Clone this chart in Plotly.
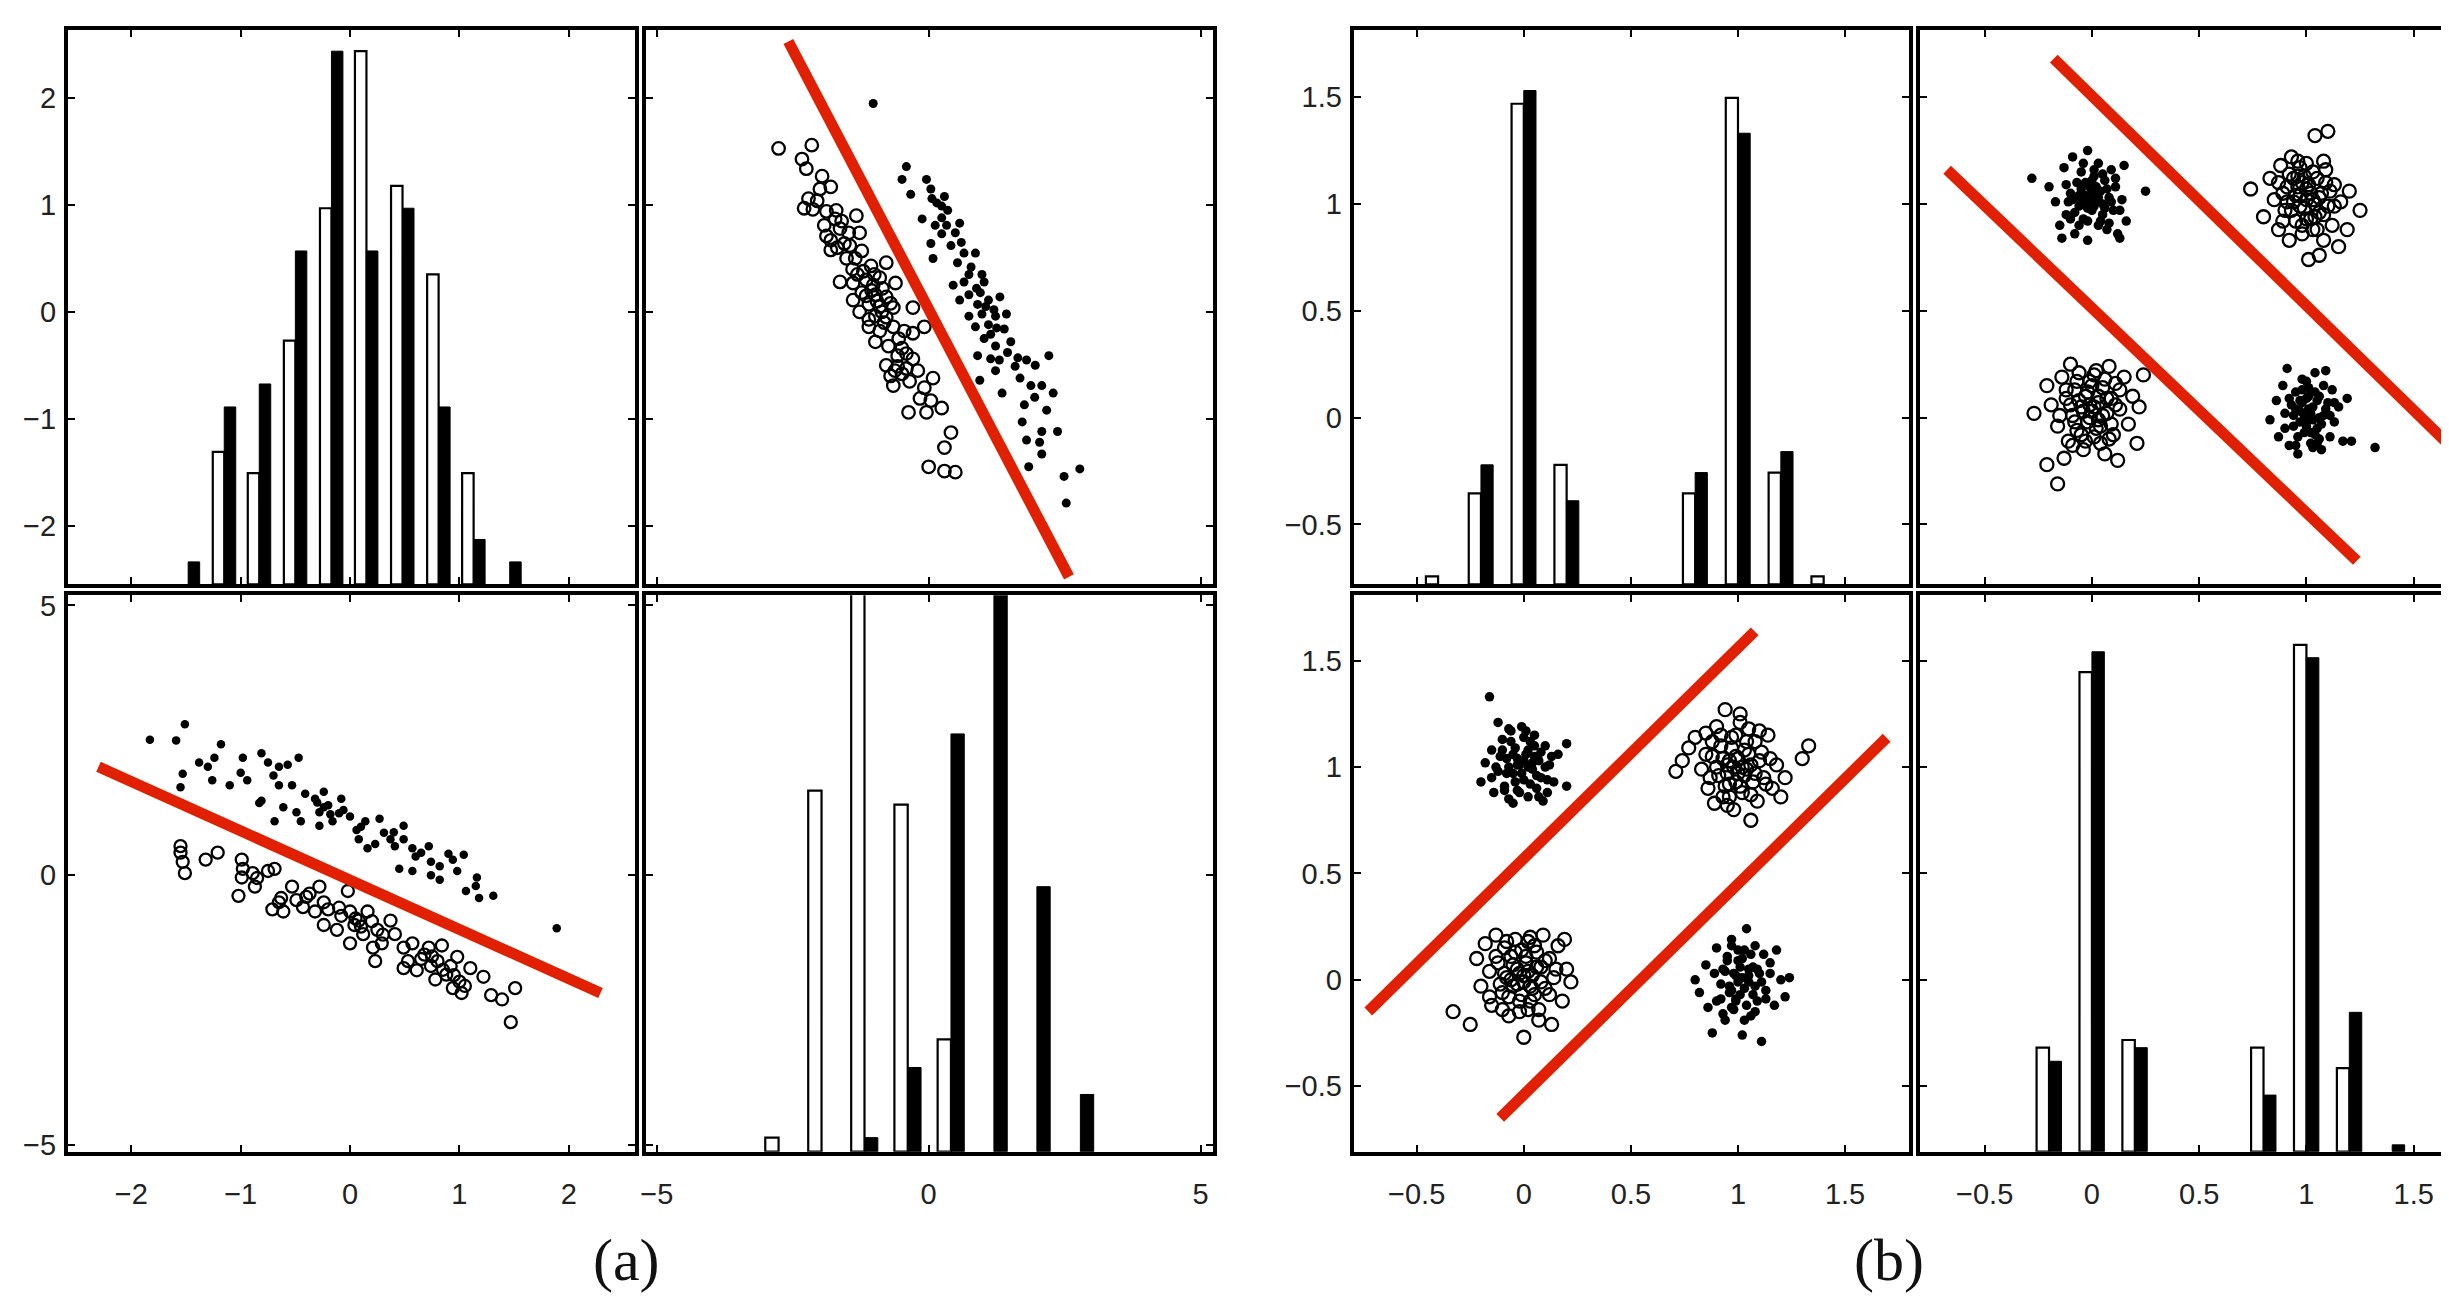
import plotly.graph_objects as go

W, H = 2449, 1297
RED = "#E02000"

# ---------------- (a) histograms: bin centres and bar tops (axis units) ----------------
a11_bins = [-1.48, -1.15, -0.83, -0.50, -0.17, 0.15, 0.48, 0.81, 1.13, 1.46]
a11_open_top = [None, -1.31, -1.51, -0.27, 0.97, 2.44, 1.18, 0.35, -1.51, None]
a11_fill_top = [-2.34, -0.89, -0.675, 0.57, 2.44, 0.57, 0.97, -0.89, -2.13, -2.34]

a22_bins = [-2.76, -1.97, -1.18, -0.385, 0.41, 1.20, 1.99, 2.79]
a22_open_top = [-4.86, 1.57, 6.0, 1.31, -3.04, None, None, None]
a22_fill_top = [None, None, -4.86, -3.56, 2.62, 6.0, -0.21, -4.06]

# ---------------- (b) histograms ----------------
b11_bins = [-0.4, -0.2, 0.0, 0.2, 0.8, 1.0, 1.2, 1.4]
b11_open_top = [-0.743, -0.354, 1.469, -0.221, -0.354, 1.496, -0.257, -0.743]
b11_fill_top = [None, -0.221, 1.531, -0.389, -0.257, 1.331, -0.159, None]

b22_bins = [-0.2, 0.0, 0.2, 0.8, 1.0, 1.2, 1.4]
b22_open_top = [-0.319, 1.446, -0.283, -0.319, 1.574, -0.415, None]
b22_fill_top = [-0.383, 1.542, -0.319, -0.542, 1.514, -0.153, -0.776]

# ---------------- (a) scatter: panel top-right (x2 vs x1) ----------------
a12_open = [(-2.76,1.53),(-2.15,1.56),(-2.33,1.43),(-2.25,1.34),(-1.96,1.27),(-1.80,1.17),(-2.21,1.06),(-2.05,1.04),
    (-2.29,0.97),(-2.13,0.96),(-1.88,0.94),(-1.33,0.90),(-1.72,0.87),(-1.92,0.81),(-1.63,0.78),(-1.47,0.74),
    (-1.27,0.74),(-1.80,0.67),(-1.55,0.64),(-1.80,0.58),(-1.23,0.57),(-1.35,0.50),(-0.78,0.46),(-1.06,0.43),
    (-1.31,0.35),(-1.63,0.28),(-1.39,0.27),(-1.15,0.30),(-0.90,0.32),(-0.61,0.27),(-1.23,0.18),(-0.98,0.16),
    (-0.78,0.14),(-1.39,0.11),(-1.10,0.07),(-0.90,0.05),(-0.65,0.04),(-0.29,0.04),(-1.27,0.00),(-0.98,-0.04),
    (-0.78,-0.05),(-1.10,-0.14),(-0.90,-0.18),(-0.65,-0.14),(-0.29,-0.20),(-0.98,-0.28),(-0.74,-0.32),(-0.49,-0.34),
    (-0.57,-0.41),(-0.41,-0.39),(-0.29,-0.44),(-0.78,-0.50),(-0.57,-0.51),(-0.41,-0.53),(-0.70,-0.60),(-0.49,-0.58),
    (-0.65,-0.69),(0.08,-0.62),(-0.08,-0.71),(-0.16,-0.81),(0.04,-0.83),(0.24,-0.90),(-0.37,-0.94),(-0.04,-0.94),
    (0.41,-1.13),(0.29,-1.27),(0.00,-1.45),(0.29,-1.49),(0.49,-1.50),(-1.88,0.71),(-1.68,0.60),(-1.51,0.50),
    (-1.02,0.25),(-0.86,0.00),(-1.10,-0.07),(-0.45,-0.18),(-0.08,-0.14),
    (-1.05,0.20),(-0.95,0.10),(-1.15,0.15),(-0.85,0.22),(-1.20,0.38),(-1.00,0.35),(-0.70,0.08),(-0.82,-0.10),
    (-1.45,0.62),(-1.60,0.85),(-1.70,0.95),(-2.00,1.15),(-1.40,0.40),(-0.55,-0.25),(-0.62,-0.55),(-0.35,-0.65),
    (-0.20,-0.55)]
a12_fill = [(-1.02,1.95),(-0.41,1.36),(-0.49,1.24),(-0.04,1.24),(0.04,1.15),(-0.33,1.10),(0.06,1.06),(0.29,1.08),
    (0.24,0.99),(-0.12,0.87),(0.12,0.81),(0.33,0.81),(0.57,0.83),(0.24,0.73),(0.49,0.74),(0.04,0.64),(0.41,0.62),
    (0.65,0.55),(0.86,0.55),(0.08,0.50),(0.53,0.46),(0.78,0.42),(0.98,0.35),(0.45,0.25),(0.65,0.28),(0.74,0.16),
    (1.02,0.28),(0.57,0.11),(0.90,0.07),(1.10,0.11),(1.31,0.14),(0.74,-0.04),(0.98,-0.02),(1.23,-0.04),(1.43,-0.02),
    (0.86,-0.14),(1.10,-0.12),(1.39,-0.16),(1.02,-0.25),(1.51,-0.28),(1.23,-0.32),(0.90,-0.41),(1.14,-0.44),
    (1.64,-0.43),(1.59,-0.51),(1.23,-0.55),(1.96,-0.50),(2.21,-0.41),(0.94,-0.64),(1.68,-0.62),(1.88,-0.69),
    (2.08,-0.69),(1.35,-0.76),(2.29,-0.76),(1.76,-0.87),(2.17,-0.92),(1.72,-1.03),(2.08,-1.12),(2.37,-1.12),
    (1.80,-1.20),(2.04,-1.22),(2.08,-1.33),(1.84,-1.45),(2.49,-1.54),(2.78,-1.47),(2.53,-1.79),(0.24,0.88),
    (0.74,0.35),(1.14,-0.21),
    (1.05,0.05),(1.20,0.02),(0.95,0.18),(1.25,-0.15),(0.60,0.65),(0.35,0.95),(0.15,1.02),(1.45,-0.38),
    (1.80,-0.45),(1.95,-0.80),(0.88,0.22),(1.30,-0.45)]
a12_line = [(-2.58, 2.53), (2.58, -2.48)]

# ---------------- (a) scatter: panel bottom-left (x1 vs x2) ----------------
a21_fill = [(-1.83,2.51),(-1.59,2.50),(-1.51,2.80),(-1.53,1.88),(-1.55,1.63),(-1.38,2.09),(-1.30,2.01),(-1.24,2.18),
    (-1.18,2.43),(-1.26,1.76),(-1.10,1.67),(-0.98,2.18),(-0.94,1.76),(-0.81,2.26),(-0.75,2.09),(-0.65,2.01),
    (-0.57,2.05),(-0.47,2.18),(-0.65,1.67),(-0.53,1.67),(-0.81,1.38),(-0.61,1.26),(-0.69,1.00),(-0.49,1.17),
    (-0.41,1.51),(-0.32,1.42),(-0.28,1.17),(-0.24,1.26),(-0.18,1.13),(-0.16,1.00),(-0.08,1.42),(-0.06,1.21),
    (0.00,1.09),(0.06,0.84),(0.14,1.00),(0.08,0.67),(0.16,0.50),(0.27,1.05),(0.31,0.79),(0.37,0.67),(0.41,0.54),
    (0.49,0.92),(0.45,0.12),(0.49,0.67),(0.57,0.50),(0.57,0.08),(0.65,0.42),(0.72,0.54),(0.74,0.25),(0.82,0.17),
    (0.82,-0.08),(0.94,0.29),(0.98,0.08),(1.04,0.38),(1.06,-0.29),(1.16,-0.04),(1.18,-0.42),(1.31,-0.38),
    (1.89,-0.98),(-0.45,1.00),(-0.28,0.92),(-0.83,1.34),(-0.24,1.55),(0.23,0.58),(0.74,0.00),
    (-0.20,1.30),(-0.10,1.15),(-0.30,1.35),(0.10,0.90),(0.40,0.80),(0.60,0.35),(-1.00,1.90),(-0.70,1.85),
    (0.90,0.40),(1.15,-0.20)]
a21_open = [(-1.55,0.54),(-1.55,0.42),(-1.53,0.25),(-1.51,0.04),(-1.32,0.29),(-1.21,0.42),(-0.99,0.29),(-0.98,0.12),
    (-0.99,-0.04),(-0.89,0.04),(-0.87,-0.21),(-1.02,-0.38),(-0.75,0.08),(-0.69,0.12),(-0.71,-0.63),(-0.63,-0.42),
    (-0.61,-0.67),(-0.53,-0.21),(-0.49,-0.46),(-0.43,-0.59),(-0.37,-0.34),(-0.28,-0.21),(-0.32,-0.67),(-0.24,-0.92),
    (-0.20,-0.63),(-0.08,-0.75),(-0.02,-0.29),(0.00,-0.67),(0.04,-0.92),(0.00,-1.26),(0.08,-0.84),(0.12,-1.09),
    (0.16,-0.67),(0.21,-1.34),(0.25,-1.01),(0.29,-1.26),(0.23,-1.59),(0.37,-0.84),(0.41,-1.09),(0.49,-1.34),
    (0.53,-1.59),(0.57,-1.26),(0.61,-1.76),(0.68,-1.47),(0.72,-1.34),(0.74,-1.68),(0.80,-1.59),(0.84,-1.30),
    (0.88,-1.84),(0.92,-1.68),(0.94,-2.09),(1.00,-1.97),(1.02,-2.18),(1.10,-1.72),(1.22,-1.88),(1.29,-2.22),
    (1.39,-2.30),(1.51,-2.09),(1.47,-2.72),(-0.12,-1.01),(0.49,-1.72),(-0.24,-0.50),(-0.65,-0.50),(0.78,-1.93),
    (0.98,-1.51),
    (0.05,-0.80),(0.10,-0.95),(0.30,-1.10),(0.65,-1.55),(0.75,-1.50),(0.85,-1.75),(0.95,-1.85),(-0.10,-0.60),
    (-0.40,-0.40),(0.20,-0.85),(1.05,-2.05),(-0.85,-0.05)]
a21_line = [(-2.30, 2.01), (2.29, -2.18)]

# ---------------- (b) scatter: panel top-right ----------------
b12_fill = [(-0.28,1.12),(-0.20,1.08),(-0.17,1.01),(-0.15,0.90),(-0.13,1.17),(-0.12,0.95),(-0.10,1.05),(-0.09,1.22),
    (-0.08,0.86),(-0.07,1.10),(-0.06,0.99),(-0.05,1.15),(-0.04,0.93),(-0.03,1.04),(-0.02,1.25),(-0.02,0.83),
    (-0.01,1.08),(0.00,0.97),(0.01,1.13),(0.02,1.01),(0.03,0.90),(0.03,1.19),(0.04,1.06),(0.05,0.95),(0.06,1.11),
    (0.07,0.88),(0.08,1.03),(0.09,1.16),(0.10,0.97),(0.11,1.08),(0.12,0.86),(0.14,1.02),(0.15,1.18),(0.16,0.92),
    (0.25,1.06),(-0.11,1.01),(-0.05,1.02),(0.00,1.05),(0.05,1.00),(-0.02,0.98),(-0.14,0.84),(0.13,0.84),
    (-0.06,1.04),(-0.04,1.00),(-0.01,1.02),(0.01,0.99),(0.03,1.03),(0.02,1.08),(-0.03,1.10),(-0.08,0.96),
    (0.06,0.98),(0.07,1.07),(-0.05,1.07),(0.00,1.11),(-0.09,1.02),(0.04,0.92),(-0.02,0.92),(0.09,1.01),
    (-0.12,1.09),(0.11,1.12),(0.01,1.16),(-0.06,0.90),(0.08,0.91),(-0.10,0.93),(0.05,1.14),(-0.04,1.19),(0.13,0.97),
    # lower-right cluster
    (0.83,-0.01),(0.86,0.08),(0.87,-0.09),(0.89,0.15),(0.90,0.02),(0.91,0.23),(0.92,-0.13),(0.93,0.06),(0.94,-0.04),
    (0.95,0.12),(0.96,-0.17),(0.97,0.03),(0.98,0.18),(0.99,-0.07),(1.00,0.09),(1.00,-0.01),(1.01,0.14),(1.02,-0.12),
    (1.03,0.05),(1.04,0.21),(1.05,-0.05),(1.06,0.10),(1.07,-0.15),(1.08,0.01),(1.09,0.22),(1.10,0.07),(1.11,-0.09),
    (1.12,0.13),(1.13,-0.02),(1.15,0.05),(1.17,-0.11),(1.19,0.09),(1.21,-0.11),(1.32,-0.14),(0.95,0.04),(1.02,0.02),
    (1.06,0.00),(0.98,0.07),(1.04,-0.08),
    (0.99,0.01),(1.01,0.04),(1.03,-0.01),(1.00,-0.04),(0.97,0.08),(1.05,0.08),(1.07,-0.03),(0.96,-0.09),
    (1.04,0.12),(0.94,0.01),(1.09,0.04),(1.02,-0.07),(0.98,0.13),(1.06,-0.10),(0.92,0.09),(1.11,0.01),
    (1.00,0.17),(0.95,-0.13),(1.08,0.15),(1.03,-0.14),(0.90,-0.05),(1.13,0.07),(1.01,0.10),(0.97,-0.02),(1.05,-0.12)]
b12_open = [(0.74,1.07),(0.80,0.94),(0.83,1.12),(0.85,1.02),(0.87,0.88),(0.88,1.18),(0.90,0.97),(0.91,1.08),
    (0.92,0.83),(0.93,1.22),(0.94,1.01),(0.95,0.92),(0.96,1.13),(0.97,1.04),(0.98,0.86),(0.99,0.98),(1.00,1.19),
    (1.00,1.07),(1.01,0.74),(1.02,0.93),(1.03,1.02),(1.04,1.32),(1.05,1.12),(1.06,0.76),(1.06,0.96),(1.07,1.05),
    (1.08,0.83),(1.09,1.16),(1.10,1.34),(1.10,0.99),(1.12,0.90),(1.13,1.09),(1.15,0.80),(1.16,1.01),(1.19,0.88),
    (1.20,1.06),(1.25,0.97),(0.96,1.20),(1.03,0.88),(0.89,1.05),(1.08,1.20),(0.98,1.10),
    (0.95,1.04),(0.97,0.99),(1.00,1.02),(1.02,1.05),(1.04,1.00),(1.01,1.09),(0.96,1.08),(0.93,0.97),
    (1.06,1.03),(1.08,0.95),(0.94,1.12),(1.00,0.93),(1.03,1.15),(0.91,1.01),(1.11,1.06),(0.98,0.90),
    (1.05,0.88),(0.89,0.92),(1.09,1.10),(0.97,1.17),(1.13,0.99),(0.92,1.14),(1.04,0.94),(0.99,1.13),(0.87,1.10),
    # lower-left cluster
    (-0.27,0.02),(-0.21,0.15),(-0.21,-0.22),(-0.16,-0.31),(-0.19,0.06),(-0.16,-0.04),(-0.14,0.19),(-0.12,0.09),
    (-0.11,-0.11),(-0.10,0.25),(-0.09,0.01),(-0.08,0.13),(-0.07,-0.06),(-0.06,0.21),(-0.05,0.05),(-0.04,-0.15),
    (-0.03,0.10),(-0.02,-0.02),(-0.01,0.17),(0.00,0.03),(0.01,-0.09),(0.02,0.22),(0.03,0.07),(0.04,-0.04),
    (0.05,0.14),(0.06,-0.17),(0.07,0.02),(0.08,0.24),(0.09,0.09),(0.10,-0.08),(0.11,0.16),(0.12,-0.20),(0.13,0.04),
    (0.15,0.19),(0.17,-0.03),(0.19,0.10),(0.21,-0.12),(0.22,0.05),(0.24,0.20),(-0.13,-0.19),(-0.01,0.06),(0.03,-0.01),
    (-0.04,0.03),(-0.01,0.00),(0.01,0.05),(0.03,0.10),(-0.06,0.08),(-0.02,0.12),(0.05,0.01),(-0.08,-0.02),
    (0.02,-0.05),(-0.05,-0.08),(0.07,0.09),(-0.10,0.06),(0.00,0.15),(0.06,0.18),(-0.07,0.17),(0.09,-0.03),
    (-0.12,0.13),(0.04,-0.12),(-0.03,-0.11),(0.11,0.06),(-0.15,0.01),(0.13,0.13),(-0.09,-0.13),(0.08,-0.10),(0.01,0.20)]
b12_lines = [[(-0.178, 1.68), (1.80, -0.26)], [(-0.675, 1.16), (1.235, -0.67)]]

# ---------------- (b) scatter: panel bottom-left ----------------
b21_fill = [(-0.16,1.33),(-0.12,1.21),(-0.20,0.93),(-0.18,1.02),(-0.15,1.08),(-0.14,0.88),(-0.12,0.98),(-0.10,1.13),
    (-0.09,0.91),(-0.08,1.04),(-0.07,0.85),(-0.06,1.17),(-0.05,0.97),(-0.04,1.09),(-0.03,0.89),(-0.02,1.01),
    (-0.01,1.19),(0.00,0.94),(0.01,1.06),(0.02,0.86),(0.03,1.12),(0.04,0.99),(0.05,1.15),(0.06,0.90),(0.07,1.03),
    (0.08,0.95),(0.10,1.10),(0.11,0.88),(0.12,1.01),(0.14,0.93),(0.16,1.06),(0.20,1.11),(0.20,0.91),(-0.03,1.04),
    (0.02,1.00),(-0.07,1.00),(0.05,1.05),(-0.11,1.05),(0.09,0.84),(-0.05,0.83),
    (-0.03,1.01),(0.00,1.03),(-0.05,1.06),(0.02,1.08),(-0.01,0.97),(0.04,1.02),(-0.08,0.97),(-0.04,0.93),
    (0.06,0.96),(0.03,0.92),(-0.06,1.12),(0.00,1.14),(0.08,1.07),(-0.10,1.08),(-0.13,1.00),(0.10,1.00),
    (-0.02,0.88),(0.05,1.10),(-0.09,0.89),(0.13,1.05),(-0.15,0.95),(0.07,0.86),(-0.07,1.18),(0.11,0.94),(0.01,1.17),
    # lower-right cluster
    (0.80,0.00),(0.82,-0.06),(0.85,0.07),(0.86,-0.13),(0.88,-0.25),(0.89,0.03),(0.90,0.15),(0.92,-0.09),(0.93,0.05),
    (0.94,-0.19),(0.95,0.11),(0.96,-0.03),(0.97,0.19),(0.98,-0.14),(0.99,0.02),(1.00,0.09),(1.01,-0.07),(1.02,-0.26),
    (1.03,0.14),(1.04,0.24),(1.05,-0.01),(1.06,-0.17),(1.07,0.06),(1.08,0.16),(1.09,-0.10),(1.10,0.03),(1.11,-0.29),
    (1.12,0.12),(1.13,-0.05),(1.15,0.08),(1.17,-0.12),(1.18,0.14),(1.20,0.00),(1.22,-0.08),(1.24,0.01),(0.97,-0.05),
    (1.02,0.01),(1.05,0.05),(0.99,-0.10),(1.08,-0.03),
    (1.00,-0.01),(0.98,0.03),(1.03,-0.04),(1.01,0.06),(0.96,-0.06),(1.05,0.02),(0.99,-0.09),(1.07,-0.07),
    (0.94,0.04),(1.02,0.10),(1.09,0.05),(0.97,-0.13),(1.04,-0.12),(0.92,-0.02),(1.11,-0.01),(1.00,0.14),
    (0.95,0.09),(1.06,0.12),(0.90,-0.10),(1.13,-0.09),(1.03,-0.19),(0.97,0.16),(1.08,-0.15),(0.93,-0.16),(1.15,0.03)]
b21_open = [(0.71,0.98),(0.74,1.03),(0.77,1.09),(0.80,1.14),(0.83,0.99),(0.85,1.16),(0.86,0.90),(0.88,1.05),
    (0.89,0.83),(0.90,1.19),(0.91,0.96),(0.92,1.10),(0.93,0.86),(0.94,1.27),(0.95,1.01),(0.96,0.92),(0.97,1.14),
    (0.98,0.80),(0.99,1.05),(1.00,0.97),(1.01,1.21),(1.02,0.88),(1.03,1.08),(1.04,0.99),(1.05,1.18),(1.06,0.75),
    (1.07,0.93),(1.08,1.12),(1.09,0.84),(1.10,1.03),(1.12,0.95),(1.14,1.15),(1.16,0.90),(1.18,1.01),(1.20,0.86),
    (1.22,0.95),(1.30,1.04),(1.33,1.10),(0.96,1.03),(1.02,1.00),(0.99,0.93),(1.05,1.06),
    (0.98,1.00),(1.00,1.04),(0.95,0.97),(1.03,0.96),(0.97,1.09),(1.01,0.91),(0.93,1.04),(1.06,1.01),
    (0.90,1.00),(1.04,1.12),(0.94,0.91),(1.08,0.97),(0.99,1.15),(0.96,0.86),(1.11,1.07),(0.87,0.95),
    (1.06,0.87),(0.92,1.15),(1.13,0.92),(1.01,1.25),(0.85,1.06),(1.10,1.17),(0.95,0.82),(1.15,1.04),(0.88,1.12),
    # lower-left cluster
    (-0.33,-0.15),(-0.25,-0.21),(-0.22,0.10),(-0.20,-0.03),(-0.18,0.17),(-0.16,0.04),(-0.15,-0.12),(-0.13,0.21),
    (-0.12,0.08),(-0.10,-0.06),(-0.09,0.15),(-0.08,0.01),(-0.07,-0.17),(-0.06,0.11),(-0.05,-0.03),(-0.04,0.19),
    (-0.03,0.05),(-0.02,-0.10),(-0.01,0.14),(0.00,-0.01),(0.00,-0.27),(0.01,0.08),(0.02,-0.14),(0.03,0.20),
    (0.04,0.02),(0.05,-0.07),(0.06,0.13),(0.07,-0.19),(0.08,0.06),(0.09,0.21),(0.10,-0.04),(0.12,0.10),(0.13,-0.21),
    (0.14,0.01),(0.16,0.16),(0.18,-0.10),(0.20,0.05),(0.22,-0.01),(0.19,0.19),(-0.02,0.03),(0.03,-0.03),(-0.06,0.00),
    (0.00,0.02),(-0.03,-0.02),(0.02,0.04),(0.04,-0.04),(-0.05,0.07),(-0.01,-0.07),(0.06,0.06),(-0.07,-0.08),
    (0.01,0.11),(0.08,-0.01),(-0.09,0.03),(0.03,-0.10),(-0.04,0.13),(0.10,0.09),(-0.11,-0.02),(0.05,0.16),
    (-0.02,-0.15),(0.12,-0.07),(-0.13,0.11),(0.07,-0.14),(-0.08,0.18),(0.15,0.05),(-0.16,-0.08),(0.02,0.18),(-0.10,-0.14)]
b21_lines = [[(-0.726, -0.149), (1.078, 1.638)], [(-0.11, -0.649), (1.694, 1.138)]]

panel_labels = ["(a)", "(b)"]
ticks_a1 = [-2, -1, 0, 1, 2]
ticks_a2 = [-5, 0, 5]
ticks_b = [-0.5, 0, 0.5, 1, 1.5]

# ---------------- layout geometry (pixels) ----------------
def xd(p0, p1):
    return [p0 / W, p1 / W]

def yd(p0, p1):
    return [1 - p1 / H, 1 - p0 / H]

colA1, colA2 = xd(54, 623), xd(634, 1202)
colB1, colB2 = xd(1343, 1900), xd(1911, W)
row1, row2 = yd(17, 578), yd(589, 1152)

rng = {
    "xA1": [-2.58, 2.61], "xA2": [-5.19, 5.23],
    "yA1": [-2.55, 2.64], "yA2": [-5.12, 5.19],
    "xB1": [-0.794, 1.80], "xB2": [-0.80, 1.702],
    "yB1": [-0.78, 1.815], "yB2": [-0.808, 1.808],
}

# panel: (xdomain, ydomain, xrange, yrange, xticks, yticks, show x labels, show y labels, right edge visible)
panels = [
    (colA1, row1, rng["xA1"], rng["yA1"], ticks_a1, ticks_a1, False, True, True),
    (colA2, row1, rng["xA2"], rng["yA1"], ticks_a2, ticks_a1, False, False, True),
    (colA1, row2, rng["xA1"], rng["yA2"], ticks_a1, ticks_a2, True, True, True),
    (colA2, row2, rng["xA2"], rng["yA2"], ticks_a2, ticks_a2, True, False, True),
    (colB1, row1, rng["xB1"], rng["yB1"], ticks_b, ticks_b, False, True, True),
    (colB2, row1, rng["xB2"], rng["yB1"], ticks_b, ticks_b, False, False, False),
    (colB1, row2, rng["xB1"], rng["yB2"], ticks_b, ticks_b, True, True, True),
    (colB2, row2, rng["xB2"], rng["yB2"], ticks_b, ticks_b, True, False, False),
]

FONT = dict(family="Liberation Sans, Arial, sans-serif", size=29, color="#222222")
layout = dict(width=W, height=H, margin=dict(l=0, r=0, t=0, b=0),
              paper_bgcolor="white", plot_bgcolor="white", showlegend=False,
              barmode="overlay", font=FONT)
for i, (xdom, ydom, xr, yr, xt, yt, sxl, syl, right) in enumerate(panels, start=1):
    sfx = "" if i == 1 else str(i)
    layout["xaxis" + sfx] = dict(domain=xdom, range=xr, anchor="y" + sfx, tickvals=xt,
                                 showticklabels=sxl, ticks="inside", ticklen=7, tickwidth=2,
                                 tickcolor="black", showline=True, linecolor="black", linewidth=4,
                                 mirror="ticks", showgrid=False, zeroline=False,
                                 ticklabelstandoff=14, tickfont=FONT)
    layout["yaxis" + sfx] = dict(domain=ydom, range=yr, anchor="x" + sfx, tickvals=yt,
                                 showticklabels=syl, ticks="inside", ticklen=7, tickwidth=2,
                                 tickcolor="black", showline=True, linecolor="black", linewidth=4,
                                 mirror="ticks" if right else False, showgrid=False, zeroline=False,
                                 ticklabelstandoff=2, tickfont=FONT)

fig = go.Figure(layout=layout)


def add_hist(idx, bins, open_top, fill_top, base, width):
    ax = "" if idx == 1 else str(idx)
    ox = [b for b, t in zip(bins, open_top) if t is not None]
    oy = [t - base for t in open_top if t is not None]
    fx = [b for b, t in zip(bins, fill_top) if t is not None]
    fy = [t - base for t in fill_top if t is not None]
    fig.add_trace(go.Bar(x=ox, y=oy, base=base, width=width, offset=-width,
                         marker=dict(color="white", line=dict(color="black", width=2.2)),
                         xaxis="x" + ax, yaxis="y" + ax))
    fig.add_trace(go.Bar(x=fx, y=fy, base=base, width=width, offset=0,
                         marker=dict(color="black", line=dict(color="black", width=1)),
                         xaxis="x" + ax, yaxis="y" + ax))


def add_points(idx, pts, filled, size_f=9, size_o=12.5):
    ax = "" if idx == 1 else str(idx)
    xs = [p[0] for p in pts]
    ys = [p[1] for p in pts]
    if filled:
        m = dict(symbol="circle", size=size_f, color="black", line=dict(width=0))
    else:
        m = dict(symbol="circle-open", size=size_o, color="black", line=dict(width=2.3, color="black"))
    fig.add_trace(go.Scatter(x=xs, y=ys, mode="markers", marker=m,
                             xaxis="x" + ax, yaxis="y" + ax, cliponaxis=True))


def add_line(idx, seg):
    ax = "" if idx == 1 else str(idx)
    fig.add_trace(go.Scatter(x=[seg[0][0], seg[1][0]], y=[seg[0][1], seg[1][1]], mode="lines",
                             line=dict(color=RED, width=11),
                             xaxis="x" + ax, yaxis="y" + ax))


# (a)
add_hist(1, a11_bins, a11_open_top, a11_fill_top, rng["yA1"][0], 0.105)
add_points(2, a12_open, False)
add_points(2, a12_fill, True)
add_line(2, a12_line)
add_points(3, a21_open, False, size_o=12)
add_points(3, a21_fill, True, size_f=8.5)
add_line(3, a21_line)
add_hist(4, a22_bins, a22_open_top, a22_fill_top, rng["yA2"][0], 0.245)

# (b)
add_hist(5, b11_bins, b11_open_top, b11_fill_top, rng["yB1"][0], 0.057)
add_points(6, b12_open, False, size_o=13)
add_points(6, b12_fill, True, size_f=9.5)
for seg in b12_lines:
    add_line(6, seg)
add_points(7, b21_open, False, size_o=13)
add_points(7, b21_fill, True, size_f=9.5)
for seg in b21_lines:
    add_line(7, seg)
add_hist(8, b22_bins, b22_open_top, b22_fill_top, rng["yB2"][0], 0.058)

for label, xc in zip(panel_labels, [614, 1880]):
    fig.add_annotation(x=xc / W, y=1 - 1262 / H, xref="paper", yref="paper",
                       text=label, showarrow=False, xanchor="center", yanchor="middle",
                       font=dict(family="Liberation Serif, Times New Roman, serif", size=60, color="#111111"))

fig.write_html("out.html")
